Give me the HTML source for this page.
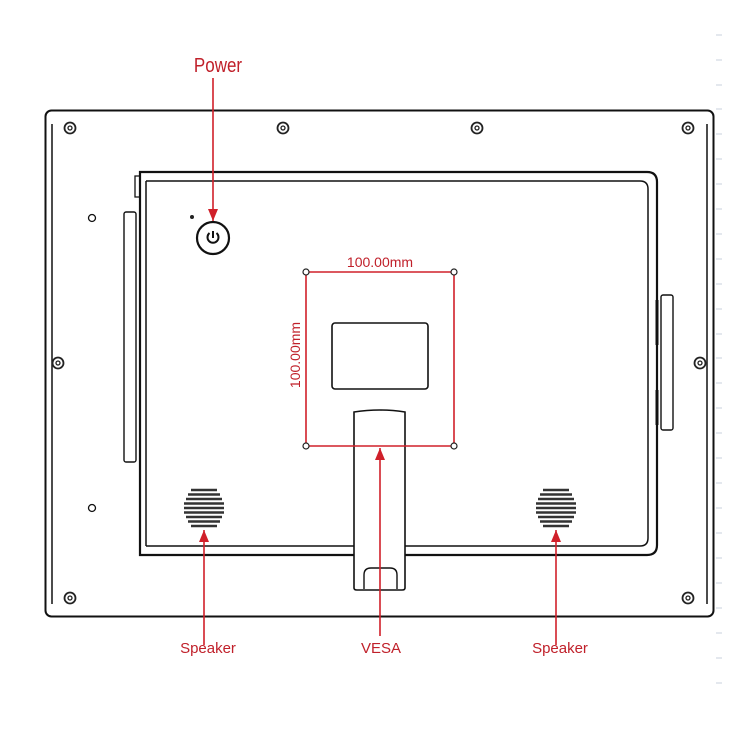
<!DOCTYPE html><html><head><style>body{margin:0;background:#fff}svg{display:block}</style></head><body>
<svg width="750" height="750" viewBox="0 0 750 750" xmlns="http://www.w3.org/2000/svg" font-family="Liberation Sans, sans-serif">
<defs><marker id="a" markerWidth="12" markerHeight="10" refX="12" refY="5" orient="auto" markerUnits="userSpaceOnUse"><path d="M0,0 L12,5 L0,10 z" fill="#d0202a"/></marker>
<g id="s"><circle r="5.5" fill="none" stroke="#222" stroke-width="1.8"/><circle r="2" fill="none" stroke="#222" stroke-width="1.3"/></g>
<g id="g" stroke="#333" stroke-width="2.6"><line x1="-13" y1="-18" x2="13" y2="-18"/><line x1="-16" y1="-13.5" x2="16" y2="-13.5"/><line x1="-18" y1="-9" x2="18" y2="-9"/><line x1="-20" y1="-4.5" x2="20" y2="-4.5"/><line x1="-20" y1="0" x2="20" y2="0"/><line x1="-20" y1="4.5" x2="20" y2="4.5"/><line x1="-18" y1="9" x2="18" y2="9"/><line x1="-16" y1="13.5" x2="16" y2="13.5"/><line x1="-13" y1="18" x2="13" y2="18"/></g></defs>
<g fill="none" stroke="#111">
<rect x="45.5" y="110.5" width="668" height="506" rx="6" stroke-width="2"/>
<line x1="52" y1="124" x2="52" y2="604" stroke-width="1.5"/>
<line x1="707" y1="124" x2="707" y2="604" stroke-width="1.5"/>
<path d="M140,172 H647 Q657,172 657,182 V545 Q657,555 647,555 H140 Z" stroke-width="2.2"/>
<path d="M146,181 H640 Q648,181 648,189 V538 Q648,546 640,546 H146" stroke-width="1.5"/>
<line x1="146" y1="181" x2="146" y2="546" stroke-width="1.5"/>
<path d="M140,176 H135 V197 H140" stroke-width="1.3"/>
<rect x="124" y="212" width="12" height="250" rx="2" stroke-width="1.4"/>
<rect x="661" y="295" width="12" height="135" rx="2" stroke-width="1.4"/>
<line x1="657" y1="300" x2="657" y2="345" stroke-width="3"/><line x1="657" y1="390" x2="657" y2="425" stroke-width="3"/>
<circle cx="92" cy="218" r="3.5" stroke-width="1.3"/><circle cx="92" cy="508" r="3.5" stroke-width="1.3"/>
<circle cx="213" cy="238" r="16" stroke-width="2.2"/>
<path d="M209.5,233 A5.5,5.5 0 1 0 216.5,233" stroke-width="2"/><line x1="213" y1="231" x2="213" y2="238" stroke-width="2"/>
<rect x="332" y="323" width="96" height="66" rx="3" stroke-width="1.6"/>
<path d="M354,412 Q380,408 405,412 V588 Q405,590 402,590 H357 Q354,590 354,588 Z" fill="#fff" stroke-width="1.6"/>
<path d="M364,589 V575 Q364,568 371,568 H390 Q397,568 397,575 V589" stroke-width="1.4"/>
</g>
<circle cx="192" cy="217" r="2" fill="#222"/>
<use href="#s" x="70" y="128"/><use href="#s" x="283" y="128"/><use href="#s" x="477" y="128"/><use href="#s" x="688" y="128"/>
<use href="#s" x="58" y="363"/><use href="#s" x="700" y="363"/><use href="#s" x="70" y="598"/><use href="#s" x="688" y="598"/>
<use href="#g" x="204" y="508"/><use href="#g" x="556" y="508"/>
<g stroke="#d0202a" stroke-width="1.6" fill="none">
<line x1="306" y1="272" x2="454" y2="272"/><line x1="306" y1="446" x2="454" y2="446"/>
<line x1="306" y1="272" x2="306" y2="446"/><line x1="454" y1="272" x2="454" y2="446"/>
<line x1="213" y1="78" x2="213" y2="221" marker-end="url(#a)"/>
<line x1="204" y1="645" x2="204" y2="530" marker-end="url(#a)"/>
<line x1="556" y1="645" x2="556" y2="530" marker-end="url(#a)"/>
<line x1="380" y1="636" x2="380" y2="448" marker-end="url(#a)"/>
</g>
<g fill="#fff" stroke="#222" stroke-width="1.2"><circle cx="306" cy="272" r="3"/><circle cx="454" cy="272" r="3"/><circle cx="306" cy="446" r="3"/><circle cx="454" cy="446" r="3"/></g>
<g fill="#c0202a">
<text x="218" y="72" font-size="20" text-anchor="middle" transform="translate(218,0) scale(0.85,1) translate(-218,0)">Power</text>
<text x="380" y="267" font-size="14" text-anchor="middle">100.00mm</text>
<text transform="translate(300,355) rotate(-90)" font-size="14" text-anchor="middle">100.00mm</text>
<text x="208" y="653" font-size="15" text-anchor="middle">Speaker</text>
<text x="381" y="653" font-size="15" text-anchor="middle">VESA</text>
<text x="560" y="653" font-size="15" text-anchor="middle">Speaker</text>
</g>
<g stroke="#c8d0dc" stroke-width="1">
<line x1="716" y1="35" x2="722" y2="35"/><line x1="716" y1="60" x2="722" y2="60"/><line x1="716" y1="85" x2="722" y2="85"/><line x1="716" y1="109" x2="722" y2="109"/><line x1="716" y1="134" x2="722" y2="134"/><line x1="716" y1="159" x2="722" y2="159"/><line x1="716" y1="184" x2="722" y2="184"/><line x1="716" y1="209" x2="722" y2="209"/><line x1="716" y1="234" x2="722" y2="234"/><line x1="716" y1="259" x2="722" y2="259"/><line x1="716" y1="284" x2="722" y2="284"/><line x1="716" y1="309" x2="722" y2="309"/><line x1="716" y1="334" x2="722" y2="334"/><line x1="716" y1="358" x2="722" y2="358"/><line x1="716" y1="383" x2="722" y2="383"/><line x1="716" y1="408" x2="722" y2="408"/><line x1="716" y1="433" x2="722" y2="433"/><line x1="716" y1="458" x2="722" y2="458"/><line x1="716" y1="483" x2="722" y2="483"/><line x1="716" y1="508" x2="722" y2="508"/><line x1="716" y1="533" x2="722" y2="533"/><line x1="716" y1="558" x2="722" y2="558"/><line x1="716" y1="583" x2="722" y2="583"/><line x1="716" y1="608" x2="722" y2="608"/><line x1="716" y1="633" x2="722" y2="633"/><line x1="716" y1="658" x2="722" y2="658"/><line x1="716" y1="683" x2="722" y2="683"/>
</g>
</svg></body></html>
